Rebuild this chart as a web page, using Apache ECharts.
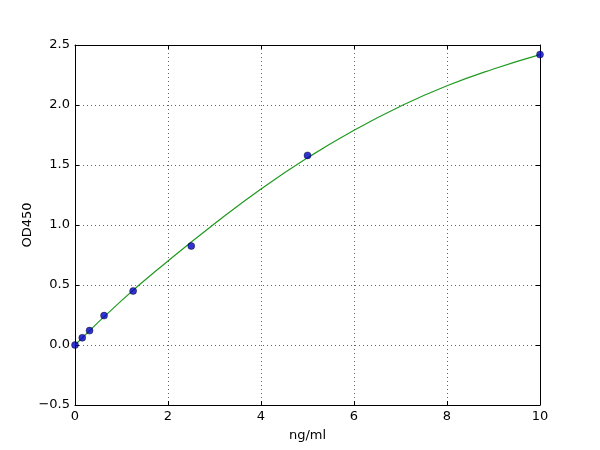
<!DOCTYPE html>
<html>
<head>
<meta charset="utf-8">
<script src="https://cdn.jsdelivr.net/npm/echarts@6/dist/echarts.min.js"></script>
<style>
  html, body { margin: 0; padding: 0; background: #fff; }
  #chart { width: 600px; height: 450px; }
</style>
</head>
<body>
<div id="chart"></div>
<script>
// standard points (ng/ml, OD450)
var conc = [0, 0.156, 0.3125, 0.625, 1.25, 2.5, 5, 10];
var od = [0.0, 0.06, 0.12, 0.245, 0.45, 0.825, 1.58, 2.42];

// fitted curve
var fitX = [0, 1, 2, 3, 4, 5, 6, 7, 8, 9, 10];
var fitY = [0, 0.37, 0.70, 1.01, 1.30, 1.56, 1.79, 1.99, 2.16, 2.30, 2.42];

var points = conc.map(function (x, i) { return [x, od[i]]; });
var curve = fitX.map(function (x, i) { return [x, fitY[i]]; });

var myChart = echarts.init(document.getElementById("chart"));

var fontFamily = "DejaVu Sans";
var tickStyle = { inside: true, length: 4, lineStyle: { color: '#000' } };
var lineStyle = { show: true, onZero: false, lineStyle: { color: '#000', width: 1 } };
var gridLine = { show: true, lineStyle: { color: '#666', type: [1, 3], width: 1 } };

var option = {
    animation: false,
    backgroundColor: '#fff',
    textStyle: { fontFamily: fontFamily },
    grid: { left: 75, right: 60, top: 45, bottom: 45 },
    xAxis: [{
        type: 'value',
        min: 0,
        max: 10,
        interval: 2,
        name: 'ng/ml',
        nameLocation: 'middle',
        nameGap: 24,
        nameMoveOverlap: false,
        nameTextStyle: { color: '#000', fontSize: 13, fontFamily: fontFamily },
        axisLine: lineStyle,
        axisTick: tickStyle,
        axisLabel: { color: '#000', fontSize: 13, margin: 5, fontFamily: fontFamily },
        splitLine: gridLine
    }, {
        type: 'value',
        position: 'top',
        min: 0,
        max: 10,
        interval: 2,
        axisLine: lineStyle,
        axisTick: tickStyle,
        axisLabel: { show: false },
        splitLine: { show: false }
    }],
    yAxis: [{
        type: 'value',
        min: -0.5,
        max: 2.5,
        interval: 0.5,
        name: 'OD450',
        nameLocation: 'middle',
        nameGap: 41,
        nameMoveOverlap: false,
        nameRotate: 90,
        nameTextStyle: { color: '#000', fontSize: 13, fontFamily: fontFamily },
        axisLine: lineStyle,
        axisTick: tickStyle,
        axisLabel: {
            color: '#000',
            fontSize: 13,
            margin: 5,
            fontFamily: fontFamily,
            formatter: function (v) { return v.toFixed(1).replace('-', '\u2212'); }
        },
        splitLine: gridLine
    }, {
        type: 'value',
        position: 'right',
        min: -0.5,
        max: 2.5,
        interval: 0.5,
        axisLine: lineStyle,
        axisTick: tickStyle,
        axisLabel: { show: false },
        splitLine: { show: false }
    }],
    series: [{
        name: 'fit',
        type: 'line',
        smooth: true,
        symbol: 'none',
        lineStyle: { color: '#1f9a1f', width: 1.2 },
        data: curve,
        z: 2
    }, {
        name: 'standards',
        type: 'scatter',
        symbol: 'circle',
        symbolSize: 7,
        itemStyle: { color: '#0000c8', borderColor: '#000', borderWidth: 0.5 },
        data: points,
        z: 3
    }]
};

myChart.setOption(option);
</script>
</body>
</html>
